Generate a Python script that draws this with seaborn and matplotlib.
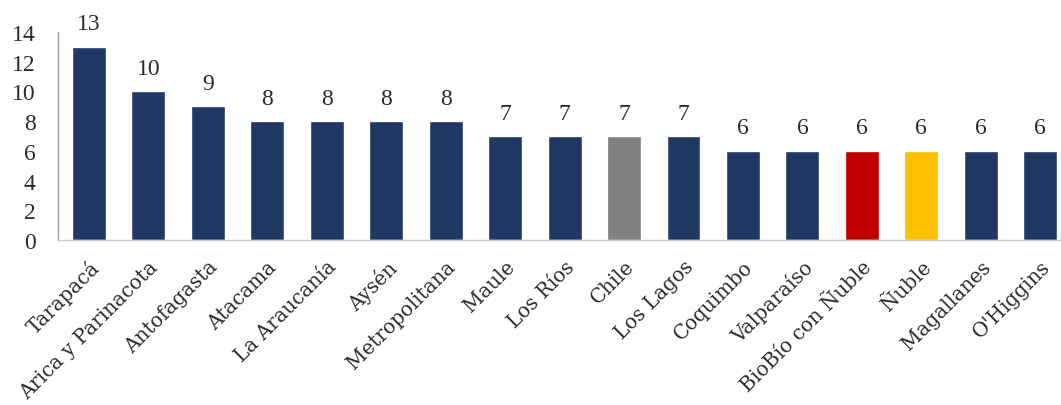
import matplotlib
matplotlib.use("Agg")
import matplotlib.pyplot as plt
import matplotlib.transforms as mtransforms
import seaborn as sns
import pandas as pd

regions = ["Tarapacá", "Arica y Parinacota", "Antofagasta", "Atacama", "La Araucanía",
           "Aysén", "Metropolitana", "Maule", "Los Ríos", "Chile", "Los Lagos",
           "Coquimbo", "Valparaíso", "BioBío con Ñuble", "Ñuble", "Magallanes", "O'Higgins"]
values = [13, 10, 9, 8, 8, 8, 8, 7, 7, 7, 7, 6, 6, 6, 6, 6, 6]
navy, gray, red, yellow = "#1F3864", "#808080", "#C00000", "#FFC000"
colors = [navy] * 9 + [gray] + [navy] * 3 + [red, yellow] + [navy] * 2
yticks = [0, 2, 4, 6, 8, 10, 12, 14]

sns.set_theme(style="white")
plt.rcParams["font.family"] = ["Liberation Serif", "DejaVu Serif"]

df = pd.DataFrame({"region": regions, "value": values})
fig = plt.figure(figsize=(10.61, 4.06), dpi=100)
ax = fig.add_axes([0.0547, 0.4064, 0.9453, 0.5123])
sns.barplot(data=df, x="region", y="value", hue="region", palette=colors,
            width=0.57, legend=False, ax=ax, saturation=1)

for i, v in enumerate(values):
    ax.annotate(f"{v}", (i, v), xytext=(0, 9), textcoords="offset points",
                ha="center", va="bottom", fontsize=17, color="#2b2b2b")

ax.set_ylim(0, 14)
ax.set_xlim(-0.52, 16.35)
ax.set_yticks(yticks)
ax.set_yticklabels([str(t) for t in yticks], fontsize=17, color="#2b2b2b")
ax.set_xticks(range(len(regions)))
ax.set_xticklabels(regions, rotation=45, ha="right", rotation_mode="anchor",
                   fontsize=14.3, color="#2b2b2b", family=["DejaVu Serif"])
shift = mtransforms.ScaledTranslation(4 / 100, 0, fig.dpi_scale_trans)
for lab in ax.get_xticklabels():
    lab.set_transform(lab.get_transform() + shift)
ax.tick_params(axis="y", length=0, pad=16)
ax.tick_params(axis="x", length=0, pad=12)
ax.set_xlabel("")
ax.set_ylabel("")
for s in ["top", "right"]:
    ax.spines[s].set_visible(False)
ax.spines["left"].set_color("#A0A0A0")
ax.spines["bottom"].set_color("#C8CCD4")
for s in ["left", "bottom"]:
    ax.spines[s].set_linewidth(1)

fig.savefig("out.png", dpi=100)
